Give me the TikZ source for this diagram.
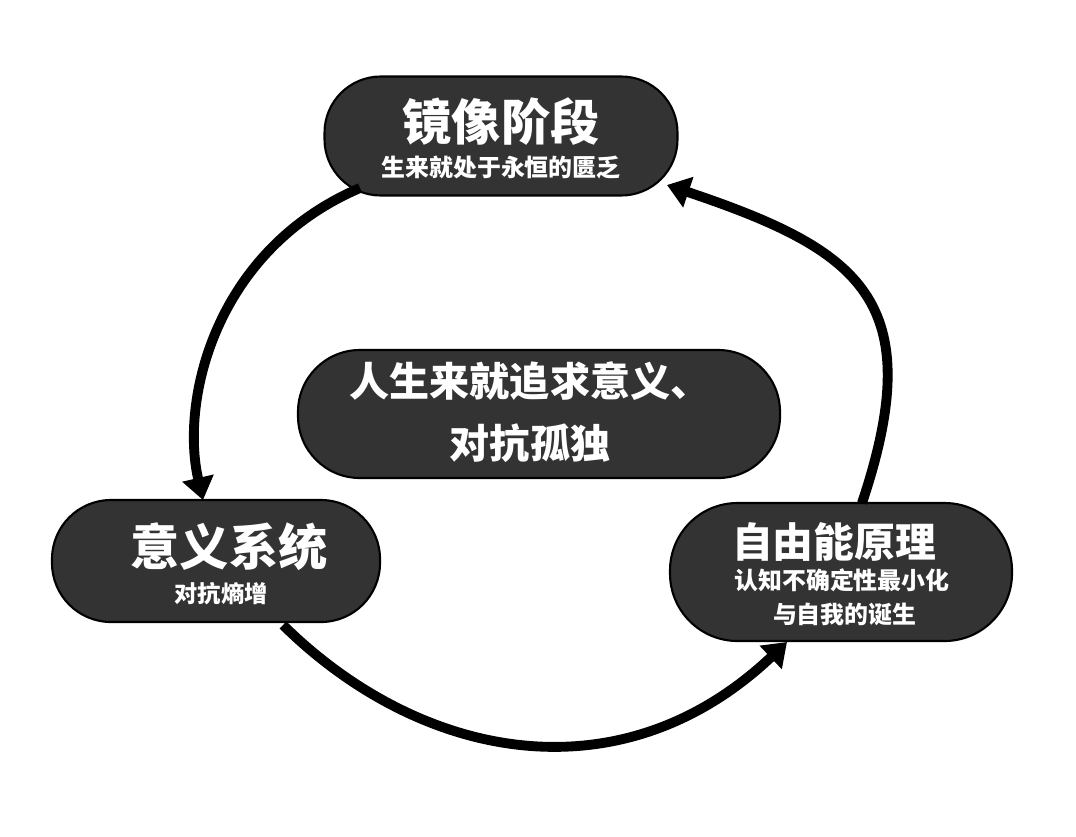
\documentclass[tikz,border=0pt]{standalone}
\usepackage{fontspec}
\newfontfamily\cjk{Noto Sans CJK SC}
\usetikzlibrary{arrows.meta}
\begin{document}
\begin{tikzpicture}[x=0.025cm,y=-0.025cm,
 pill/.style={draw=black,line width=1.5pt,fill=black!80,rounded corners=40pt,text=white,font=\cjk\bfseries,align=center,inner sep=0pt},
 lbl/.style={text=white,align=center},
 arr/.style={line width=7pt,-{Triangle[length=16pt,width=22pt]}}]
\useasboundingbox (0,0) rectangle (1076,836);
\node[pill,minimum width=353*0.025cm,minimum height=119*0.025cm] (top) at (501,136) {};
\node[lbl,font=\cjk\bfseries\fontsize{35}{38}\selectfont] (t1) at (501,122) {镜像阶段};
\node[lbl,font=\cjk\bfseries\fontsize{17}{20}\selectfont] (t2) at (501,168) {生来就处于永恒的匮乏};
\node[pill,minimum width=482*0.025cm,minimum height=128*0.025cm,rounded corners=44pt] (mid) at (539,414) {};
\node[lbl,font=\cjk\bfseries\fontsize{28.5}{44}\selectfont] (m1) at (530,412) {人生来就追求意义、\\对抗孤独};
\node[pill,minimum width=328*0.025cm,minimum height=122*0.025cm,rounded corners=42pt] (left) at (216,561) {};
\node[lbl,font=\cjk\bfseries\fontsize{35}{38}\selectfont] (l1) at (229,547) {意义系统};
\node[lbl,font=\cjk\bfseries\fontsize{16.5}{20}\selectfont] (l2) at (221,594) {对抗熵增};
\node[pill,minimum width=342*0.025cm,minimum height=138*0.025cm,rounded corners=48pt] (right) at (841,572) {};
\node[lbl,font=\cjk\bfseries\fontsize{29}{32}\selectfont] (r1) at (834,542) {自由能原理};
\node[lbl,font=\cjk\bfseries\fontsize{17}{24}\selectfont] (r2) at (842,597) {认知不确定性最小化\\\ 与自我的诞生};
\coordinate (a1) at (360,188); \coordinate (a2) at (203,500);
\coordinate (b1) at (283,625); \coordinate (b2) at (787,642);
\coordinate (c1) at (862,503); \coordinate (c2) at (667,185);
\draw[arr] (a1) .. controls (215,250) and (180,400) .. (a2);
\draw[arr] (b1) .. controls (420,760) and (620,800) .. (b2);
\draw[arr] (c1) .. controls (930,300) and (860,250) .. (c2);
\end{tikzpicture}
\end{document}
